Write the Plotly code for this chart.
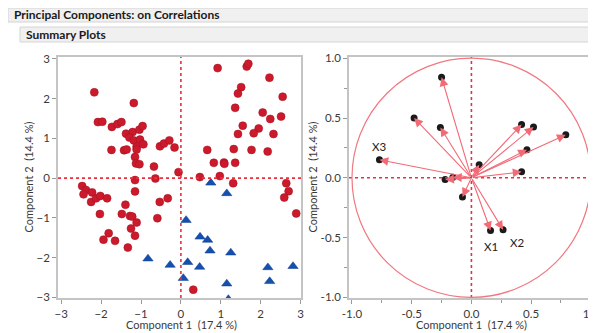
import plotly.graph_objects as go

W, H = 596, 333
OFF = 8  # page body margin offset of the figure inside the window

# ---- data: score plot ----
red_x = [-2.17, -1.18, -2.08, -1.97, -1.73, -1.59, -1.49, -1.375, -1.21, -1.29, -1.18, -1.04, -0.96,
         -1.025, -1.11, -1.11, -0.94, -1.74, -1.425, -1.36, -0.525, -0.425, -0.29, -0.16, -1.15,
         -1.125, -1.04, -0.675, -0.06, -1.15, -0.64,
         0.475, 0.92, 1.65, 1.69, 2.22, 1.51, 1.43, 2.55, 1.36, 2.05, 2.24, 2.51, 1.55, 1.95, 1.43,
         1.825, 2.32, 0.66, 1.325, 1.77, 2.175, 0.825, 1.08, 1.09, 1.36, 0.975, 1.31, 2.64, 2.7,
         2.59, 2.89, 0.31,
         -2.475, -2.38, -2.44, -2.225, -2.25, -2.125, -2.02, -1.85, -1.15, -1.39, -0.53, -0.33,
         -2.03, -1.48, -1.275, -1.22, -1.11, -0.59, -1.25, -1.81, -1.15, -1.94, -1.65, -1.33]
red_y = [2.16, 1.89, 1.41, 1.42, 1.29, 1.36, 1.41, 1.12, 1.16, 1.02, 0.95, 1.22, 1.31,
         0.97, 0.79, 0.72, 0.85, 0.71, 0.70, 0.72, 0.80, 0.87, 0.95, 0.77, 0.53,
         0.37, 0.35, 0.29, 0.15, -0.05, -0.01,
         0.025, 2.77, 2.81, 2.88, 2.53, 2.29, 2.13, 2.05, 1.77, 1.65, 1.49, 1.55, 1.32, 1.25, 1.11,
         1.13, 1.11, 0.71, 0.73, 0.71, 0.67, 0.385, 0.39, 0.36, 0.385, 0.05, -0.13, -0.13, -0.33,
         -0.49, -0.89, -2.81,
         -0.20, -0.30, -0.41, -0.36, -0.60, -0.51, -0.45, -0.51, -0.335, -0.67, -0.60, -0.51,
         -0.905, -0.905, -0.955, -0.97, -1.12, -1.01, -1.27, -1.39, -1.45, -1.55, -1.58, -1.75]
blue_x = [0.75, 1.15, 0.13, 0.48, 0.67, 0.73, 1.25, 0.17, 0.47, 2.18, 2.81, 0.06, 1.15, 2.225,
          1.19, -0.825, -0.27]
blue_y = [-0.12, -0.385, -1.06, -1.48, -1.56, -1.83, -1.88, -2.12, -2.24, -2.25, -2.22, -2.52,
          -2.66, -2.60, -3.05, -2.03, -2.19]

# ---- data: loading plot ----
load_x = [-0.77, -0.48, -0.25, -0.26, -0.22, -0.155, -0.075, 0.065, 0.42, 0.465, 0.42, 0.52, 0.79, 0.16, 0.265]
load_y = [0.15, 0.50, 0.84, 0.42, -0.015, 0.005, -0.16, 0.11, 0.05, 0.235, 0.445, 0.425, 0.36, -0.44, -0.435]
load_labels = ["X3", "", "", "", "", "", "", "", "", "", "", "", "", "X1", "X2"]

score_ticks = [-3, -2, -1, 0, 1, 2, 3]
load_ticks = [-1.0, -0.5, 0.0, 0.5, 1.0]
load_ticktext = ["-1.0", "-0.5", "0.0", "0.5", "1.0"]
x_title1 = "Component 1  (17.4 %)"
y_title2 = "Component 2  (14.4 %)"

RED = "#cc1a2c"
BLUE = "#1450b0"
REF = "#e8303e"
LOADLINE = "#f26a76"
FONT = "Lato"
HFONT = "Lato"
AXC = "#c4c4c4"
TXT = "#3a3a3a"

def px_x(p):
    return (p - OFF) / W

def px_y(p):
    return 1 - (p - OFF) / H

fig = go.Figure()

fig.add_trace(go.Scatter(x=red_x, y=red_y, mode="markers", xaxis="x", yaxis="y",
                         marker=dict(symbol="circle", size=8, color=RED,
                                     line=dict(width=0.5, color="#a01020")),
                         showlegend=False, hoverinfo="skip"))
fig.add_trace(go.Scatter(x=blue_x, y=blue_y, mode="markers", xaxis="x", yaxis="y",
                         marker=dict(symbol="triangle-up", size=9, color=BLUE,
                                     line=dict(width=0.5, color="#0c3a88")),
                         showlegend=False, hoverinfo="skip"))

# loading dots
fig.add_trace(go.Scatter(x=load_x, y=load_y, mode="markers", xaxis="x2", yaxis="y2",
                         marker=dict(symbol="circle", size=7, color="#1a1a1a"),
                         showlegend=False, hoverinfo="skip"))

annotations = []
for lx, ly in zip(load_x, load_y):
    annotations.append(dict(x=lx, y=ly, ax=0, ay=0, xref="x2", yref="y2", axref="x2", ayref="y2",
                            text="", showarrow=True, arrowhead=2, arrowsize=1.6, arrowwidth=1.1,
                            arrowcolor=LOADLINE, standoff=0))
label_shift = {"X3": (0, 13), "X1": (0, -16), "X2": (14, -13)}
for lx, ly, lab in zip(load_x, load_y, load_labels):
    if lab:
        xs, ys = label_shift[lab]
        annotations.append(dict(x=lx, y=ly, xref="x2", yref="y2", text=lab, showarrow=False,
                                xshift=xs, yshift=ys, font=dict(family=FONT, size=11.5, color="#222")))

# axis titles
title_font = dict(family=FONT, size=11, color=TXT)
for cx in (181.5, 471.5):
    annotations.append(dict(x=px_x(cx), y=px_y(324), xref="paper", yref="paper",
                            xanchor="center", yanchor="middle", text=x_title1, showarrow=False,
                            font=title_font))
for cx in (28, 312):
    annotations.append(dict(x=px_x(cx), y=px_y(177.5), xref="paper", yref="paper",
                            xanchor="center", yanchor="middle", text=y_title2, showarrow=False,
                            textangle=-90, font=title_font))

# header texts
annotations.append(dict(x=px_x(12), y=px_y(15), xref="paper", yref="paper", xanchor="left",
                        yanchor="middle", text="<b>Principal Components: on Correlations</b>",
                        showarrow=False, font=dict(family=HFONT, size=12, color="#1a1a1a")))
annotations.append(dict(x=px_x(24), y=px_y(34.5), xref="paper", yref="paper", xanchor="left",
                        yanchor="middle", text="<b>Summary Plots</b>",
                        showarrow=False, font=dict(family=HFONT, size=12, color="#1a1a1a")))

shapes = [
    dict(type="rect", xref="paper", yref="paper", x0=px_x(8), x1=px_x(610), y0=px_y(22), y1=px_y(8),
         fillcolor="#f0f0f0", line=dict(color="#d4d4d4", width=1), layer="below"),
    dict(type="rect", xref="paper", yref="paper", x0=px_x(20), x1=px_x(610), y0=px_y(42), y1=px_y(27),
         fillcolor="#f0f0f0", line=dict(color="#d4d4d4", width=1), layer="below"),
    # reference lines, score plot
    dict(type="line", xref="x", yref="y domain", x0=0, x1=0, y0=0, y1=1,
         line=dict(color=REF, width=1.6, dash="dot")),
    dict(type="line", xref="x domain", yref="y", x0=0, x1=1, y0=0, y1=0,
         line=dict(color=REF, width=1.6, dash="dot")),
    # reference lines, loading plot
    dict(type="line", xref="x2", yref="y2 domain", x0=0, x1=0, y0=0, y1=1,
         line=dict(color=REF, width=1.6, dash="dot")),
    dict(type="line", xref="x2 domain", yref="y2", x0=0, x1=1, y0=0, y1=0,
         line=dict(color=REF, width=1.6, dash="dot")),
    # unit circle
    dict(type="circle", xref="x2", yref="y2", x0=-1, x1=1, y0=-1, y1=1,
         line=dict(color="#f07880", width=1.2)),
]

yd = [px_y(298), px_y(57)]
axis_common = dict(showgrid=False, zeroline=False, showline=True, linecolor=AXC, linewidth=1.5,
                   mirror=True, ticks="outside", ticklen=4, tickcolor="#9a9a9a", automargin=False,
                   tickfont=dict(family=FONT, size=11.5, color=TXT))

fig.update_layout(
    template="none",
    width=W, height=H, margin=dict(l=0, r=0, t=0, b=0, autoexpand=False),
    paper_bgcolor="white", plot_bgcolor="white",
    showlegend=False,
    xaxis=dict(domain=[px_x(58), px_x(301)], range=[-3.08, 3.01], tickvals=score_ticks,
               anchor="y", **axis_common),
    yaxis=dict(domain=yd, range=[-3.02, 3.05], tickvals=score_ticks, anchor="x", **axis_common),
    xaxis2=dict(domain=[px_x(349), px_x(593)], range=[-1.025, 1.018], tickvals=load_ticks,
                ticktext=load_ticktext, anchor="y2",
                minor=dict(dtick=0.25, ticks="outside", ticklen=3, tickcolor="#9a9a9a"),
                **axis_common),
    yaxis2=dict(domain=yd, range=[-1.005, 1.01], tickvals=load_ticks,
                ticktext=load_ticktext, anchor="x2",
                minor=dict(dtick=0.25, ticks="outside", ticklen=3, tickcolor="#9a9a9a"),
                **axis_common),
    shapes=shapes,
    annotations=annotations,
)

fig.write_html("out.html")
